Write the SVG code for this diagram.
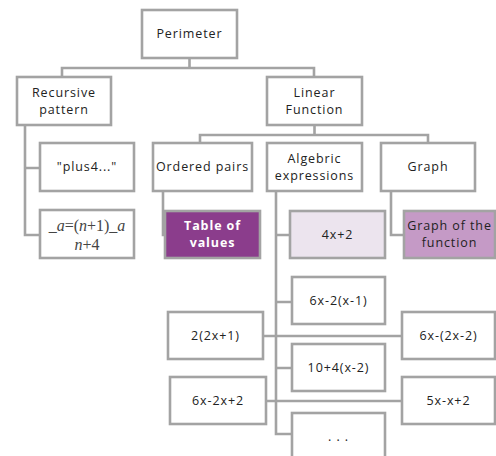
<svg xmlns="http://www.w3.org/2000/svg" width="496" height="456" viewBox="0 0 496 456">
<style>
.b{fill:#fff;stroke:#a3a3a3;stroke-width:2.6}
.t{font-family:"Open Sans","DejaVu Sans",sans-serif;font-size:12.5px;fill:#222;text-anchor:middle;letter-spacing:0.9px}
.c{fill:none;stroke:#a3a3a3;stroke-width:2.6}
.m{font-family:"Liberation Serif",serif;font-size:16px;fill:#444;text-anchor:middle}
</style>
<rect width="496" height="456" fill="#fff"/>
<g id="connectors">
<path class="c" d="M189.5 58V68M62 77V68H314V77"/>
<path class="c" d="M25 125V235H40M25 168H40"/>
<path class="c" d="M314.5 125V135M200 144V135H428V144"/>
<path class="c" d="M163 191V235H166"/>
<path class="c" d="M276 191V434H292M276 235H290M276 302H292M276 368H292"/>
<path class="c" d="M391 191V235H404"/>
<path class="c" d="M263 336H402M266 401H402"/>
</g>
<g id="perimeter"><rect class="b" x="142" y="10" width="95" height="48"/><text class="t" x="189.5" y="38">Perimeter</text></g>
<g id="recursive"><rect class="b" x="17" y="77" width="94" height="48"/><text class="t" x="64" y="97">Recursive</text><text class="t" x="64" y="114">pattern</text></g>
<g id="linear"><rect class="b" x="267" y="77" width="95" height="48"/><text class="t" x="314.5" y="97">Linear</text><text class="t" x="314.5" y="114">Function</text></g>
<g id="plus4"><rect class="b" x="40" y="143" width="94" height="48"/><text class="t" x="87" y="171">"plus4..."</text></g>
<g id="formula"><rect class="b" x="40" y="210" width="94" height="48"/><text class="m" x="87" y="231">_<tspan font-style="italic">a</tspan>=(<tspan font-style="italic">n</tspan>+1)_<tspan font-style="italic">a</tspan></text><text class="m" x="87" y="250"><tspan font-style="italic">n</tspan>+4</text></g>
<g id="ordered"><rect class="b" x="153" y="143" width="99" height="48"/><text class="t" x="202.5" y="171" letter-spacing="0.3">Ordered pairs</text></g>
<g id="algebric"><rect class="b" x="267" y="143" width="95" height="48"/><text class="t" x="314.5" y="163">Algebric</text><text class="t" x="314.5" y="180" letter-spacing="0.6">expressions</text></g>
<g id="graph"><rect class="b" x="381" y="143" width="94" height="48"/><text class="t" x="428" y="171">Graph</text></g>
<g id="table"><rect x="165" y="211" width="95" height="47" fill="#8b3d8c" stroke="#a3a3a3" stroke-width="2.6"/><text class="t" x="212.5" y="230" font-weight="bold" style="fill:#fff">Table of</text><text class="t" x="212.5" y="247" font-weight="bold" style="fill:#fff">values</text></g>
<g id="e4x2"><rect x="290" y="211" width="95" height="47" fill="#ece4ee" stroke="#a3a3a3" stroke-width="2.6"/><text class="t" x="337.5" y="239">4x+2</text></g>
<g id="graphfn"><rect x="404" y="211" width="91" height="47" fill="#c59ac6" stroke="#a3a3a3" stroke-width="2.6"/><text class="t" x="449.5" y="230" letter-spacing="0.2">Graph of the</text><text class="t" x="449.5" y="247">function</text></g>
<g id="e1"><rect class="b" x="292" y="277" width="93" height="47"/><text class="t" x="338.5" y="305">6x-2(x-1)</text></g>
<g id="e2"><rect class="b" x="168" y="312" width="95" height="47"/><text class="t" x="215.5" y="340">2(2x+1)</text></g>
<g id="e3"><rect class="b" x="402" y="312" width="93" height="47"/><text class="t" x="448.5" y="340">6x-(2x-2)</text></g>
<g id="e4"><rect class="b" x="292" y="344" width="93" height="47"/><text class="t" x="338.5" y="372">10+4(x-2)</text></g>
<g id="e5"><rect class="b" x="170" y="377" width="96" height="47"/><text class="t" x="218" y="405">6x-2x+2</text></g>
<g id="e6"><rect class="b" x="402" y="377" width="93" height="47"/><text class="t" x="448.5" y="405">5x-x+2</text></g>
<g id="e7"><rect class="b" x="292" y="413" width="93" height="60"/><text class="t" x="338.5" y="441">. . .</text></g>
</svg>
